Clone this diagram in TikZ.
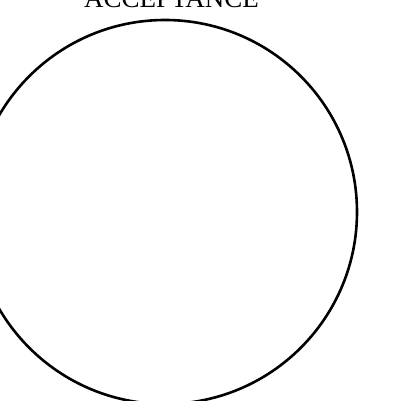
\documentclass[tikz,border=0pt]{standalone}
\usepackage{fontspec}
\setmainfont{Liberation Serif}
\usetikzlibrary{positioning, calc}

\begin{document}
\begin{tikzpicture}[x=1pt, y=1pt, thick]

    % -------------------------------------------------------------
    % frame of the picture
    % -------------------------------------------------------------
    \useasboundingbox (0,0) rectangle (402,400);
    \clip (0,0) rectangle (402,400);

    % -------------------------------------------------------------
    % the acceptance circle and its title
    % -------------------------------------------------------------
    \node (ring) [circle, draw, line width=2.6pt, inner sep=0pt,
                  minimum size=384pt] at (165,188) {};
    \node (title) [anchor=base, inner sep=0pt,
                   font=\fontsize{27}{32}\selectfont]
        at ($(ring.north)+(6.5,11)$) {ACCEPTANCE};

\end{tikzpicture}
\end{document}
